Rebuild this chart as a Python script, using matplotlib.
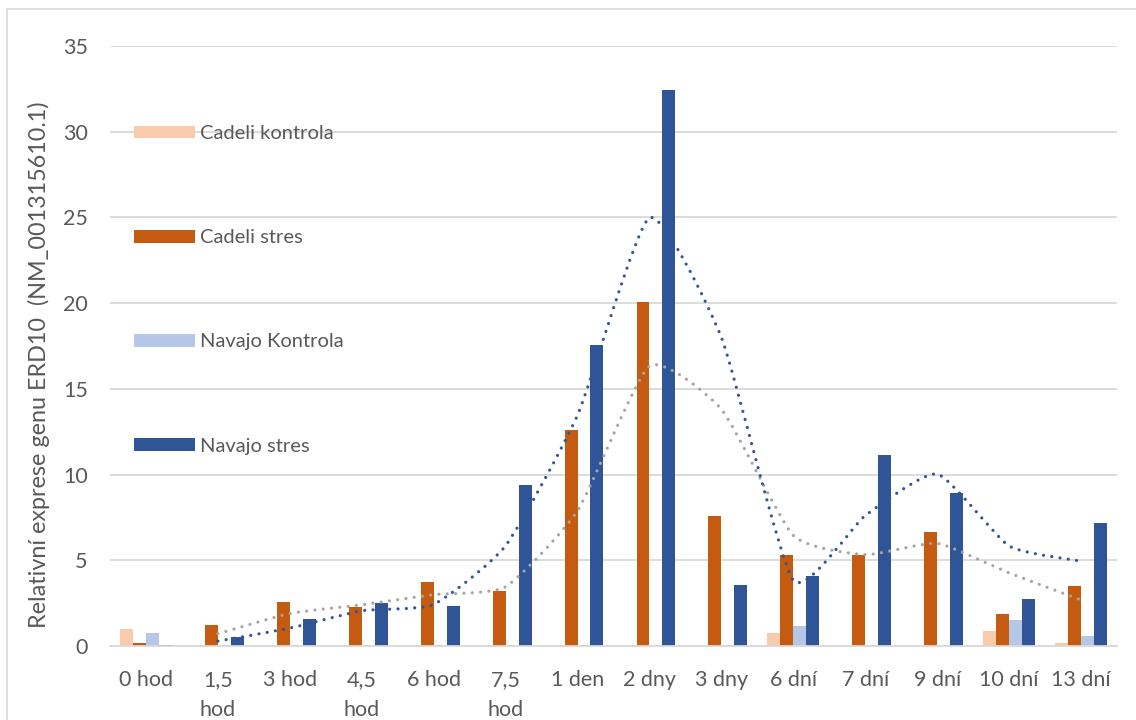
import matplotlib
matplotlib.use("Agg")
import matplotlib.pyplot as plt
from matplotlib.path import Path
from matplotlib.patches import PathPatch, Rectangle
import numpy as np

plt.rcParams['font.family'] = ['Lato', 'DejaVu Sans']

# --- data ---
categories = ['0 hod', '1,5\nhod', '3 hod', '4,5\nhod', '6 hod', '7,5\nhod', '1 den',
              '2 dny', '3 dny', '6 dní', '7 dní', '9 dní', '10 dní', '13 dní']
cadeli_kontrola = [1.0, 0, 0, 0, 0, 0, 0, 0, 0, 0.75, 0, 0, 0.86, 0.2]
cadeli_stres = [0.19, 1.24, 2.55, 2.26, 3.73, 3.18, 12.6, 20.06, 7.56, 5.33, 5.33, 6.64, 1.89, 3.48]
navajo_kontrola = [0.76, 0, 0, 0, 0, 0, 0, 0, 0, 1.17, 0, 0, 1.5, 0.58]
navajo_stres = [0.07, 0.5, 1.58, 2.53, 2.33, 9.38, 17.55, 32.42, 3.58, 4.08, 11.13, 8.93, 2.74, 7.16]

series_names = ['Cadeli kontrola', 'Cadeli stres', 'Navajo Kontrola', 'Navajo stres']
series_colors = ['#F8CBAD', '#C55A11', '#B4C7E7', '#2F5597']

TEXT = '#595959'
GRID = '#D9D9D9'


def moving_avg(vals, n=2):
    v = np.asarray(vals, dtype=float)
    return np.convolve(v, np.ones(n) / n, mode='valid')


def smooth_path(xs, ys, k=0.09):
    # cardinal spline through the points, written as cubic Bezier segments
    pts = np.column_stack([xs, ys])
    verts = [pts[0]]
    codes = [Path.MOVETO]
    for i in range(len(pts) - 1):
        p0 = pts[i - 1] if i > 0 else pts[i]
        p1 = pts[i]
        p2 = pts[i + 1]
        p3 = pts[i + 2] if i + 2 < len(pts) else pts[i + 1]
        c1 = p1 + (p2 - p0) * k
        c2 = p2 - (p3 - p1) * k
        verts += [c1, c2, p2]
        codes += [Path.CURVE4] * 3
    return Path(verts, codes)


fig = plt.figure(figsize=(11.36, 7.2), dpi=100)
ax = fig.add_axes([110 / 1136, 74 / 720, 1007 / 1136, 600 / 720])

x = np.arange(len(categories))
n = len(series_names)
group_w = 0.72
bw = group_w / n
all_series = [cadeli_kontrola, cadeli_stres, navajo_kontrola, navajo_stres]
for i, (vals, name, col) in enumerate(zip(all_series, series_names, series_colors)):
    offs = (i - (n - 1) / 2) * bw
    ax.bar(x + offs, vals, width=bw, color=col, label=name, zorder=2)

# 2-period moving average trendlines
for vals, col in [(cadeli_stres, '#A5A5A5'), (navajo_stres, '#2F5597')]:
    ma = moving_avg(vals)
    path = smooth_path(x[1:], ma)
    ax.add_patch(PathPatch(path, fill=False, edgecolor=col, linewidth=2.3,
                           linestyle=(0, (0.01, 2.6)), capstyle='round', zorder=3))

ax.set_xlim(-0.5, len(categories) - 0.5)
ax.set_ylim(0, 35)
ax.set_yticks(np.arange(0, 36, 5))
ax.set_xticks(x)
ax.set_xticklabels(categories)
for lbl in ax.get_xticklabels():
    lbl.set_linespacing(1.62)

ax.grid(axis='y', color=GRID, linewidth=1.3, zorder=0)
ax.set_axisbelow(True)
for s in ['top', 'right', 'left']:
    ax.spines[s].set_visible(False)
ax.spines['bottom'].set_color(GRID)
ax.spines['bottom'].set_linewidth(1.3)
ax.tick_params(axis='both', length=0, labelsize=15.5, labelcolor=TEXT)
ax.tick_params(axis='y', pad=16)
ax.tick_params(axis='x', pad=17)

ax.set_ylabel('Relativní exprese genu ERD10  (NM_001315610.1)', fontsize=16.8,
              color=TEXT)
ax.yaxis.set_label_coords(-0.0596, 0.468)

leg = ax.legend(loc='upper left', bbox_to_anchor=(124 / 1136, 1 - 115 / 720),
                bbox_transform=fig.transFigure, frameon=False, fontsize=14.5,
                handlelength=3.05, handleheight=0.6, handletextpad=0.2,
                labelspacing=4.33, borderpad=0)
for t in leg.get_texts():
    t.set_color(TEXT)

# chart frame
fig.patches.append(Rectangle((7 / 1136, -0.05), 1.2, 1 - 9 / 720 + 0.05,
                             transform=fig.transFigure, fill=False,
                             edgecolor='#D9D9D9', linewidth=1.2))

fig.savefig('out.png', dpi=100)
